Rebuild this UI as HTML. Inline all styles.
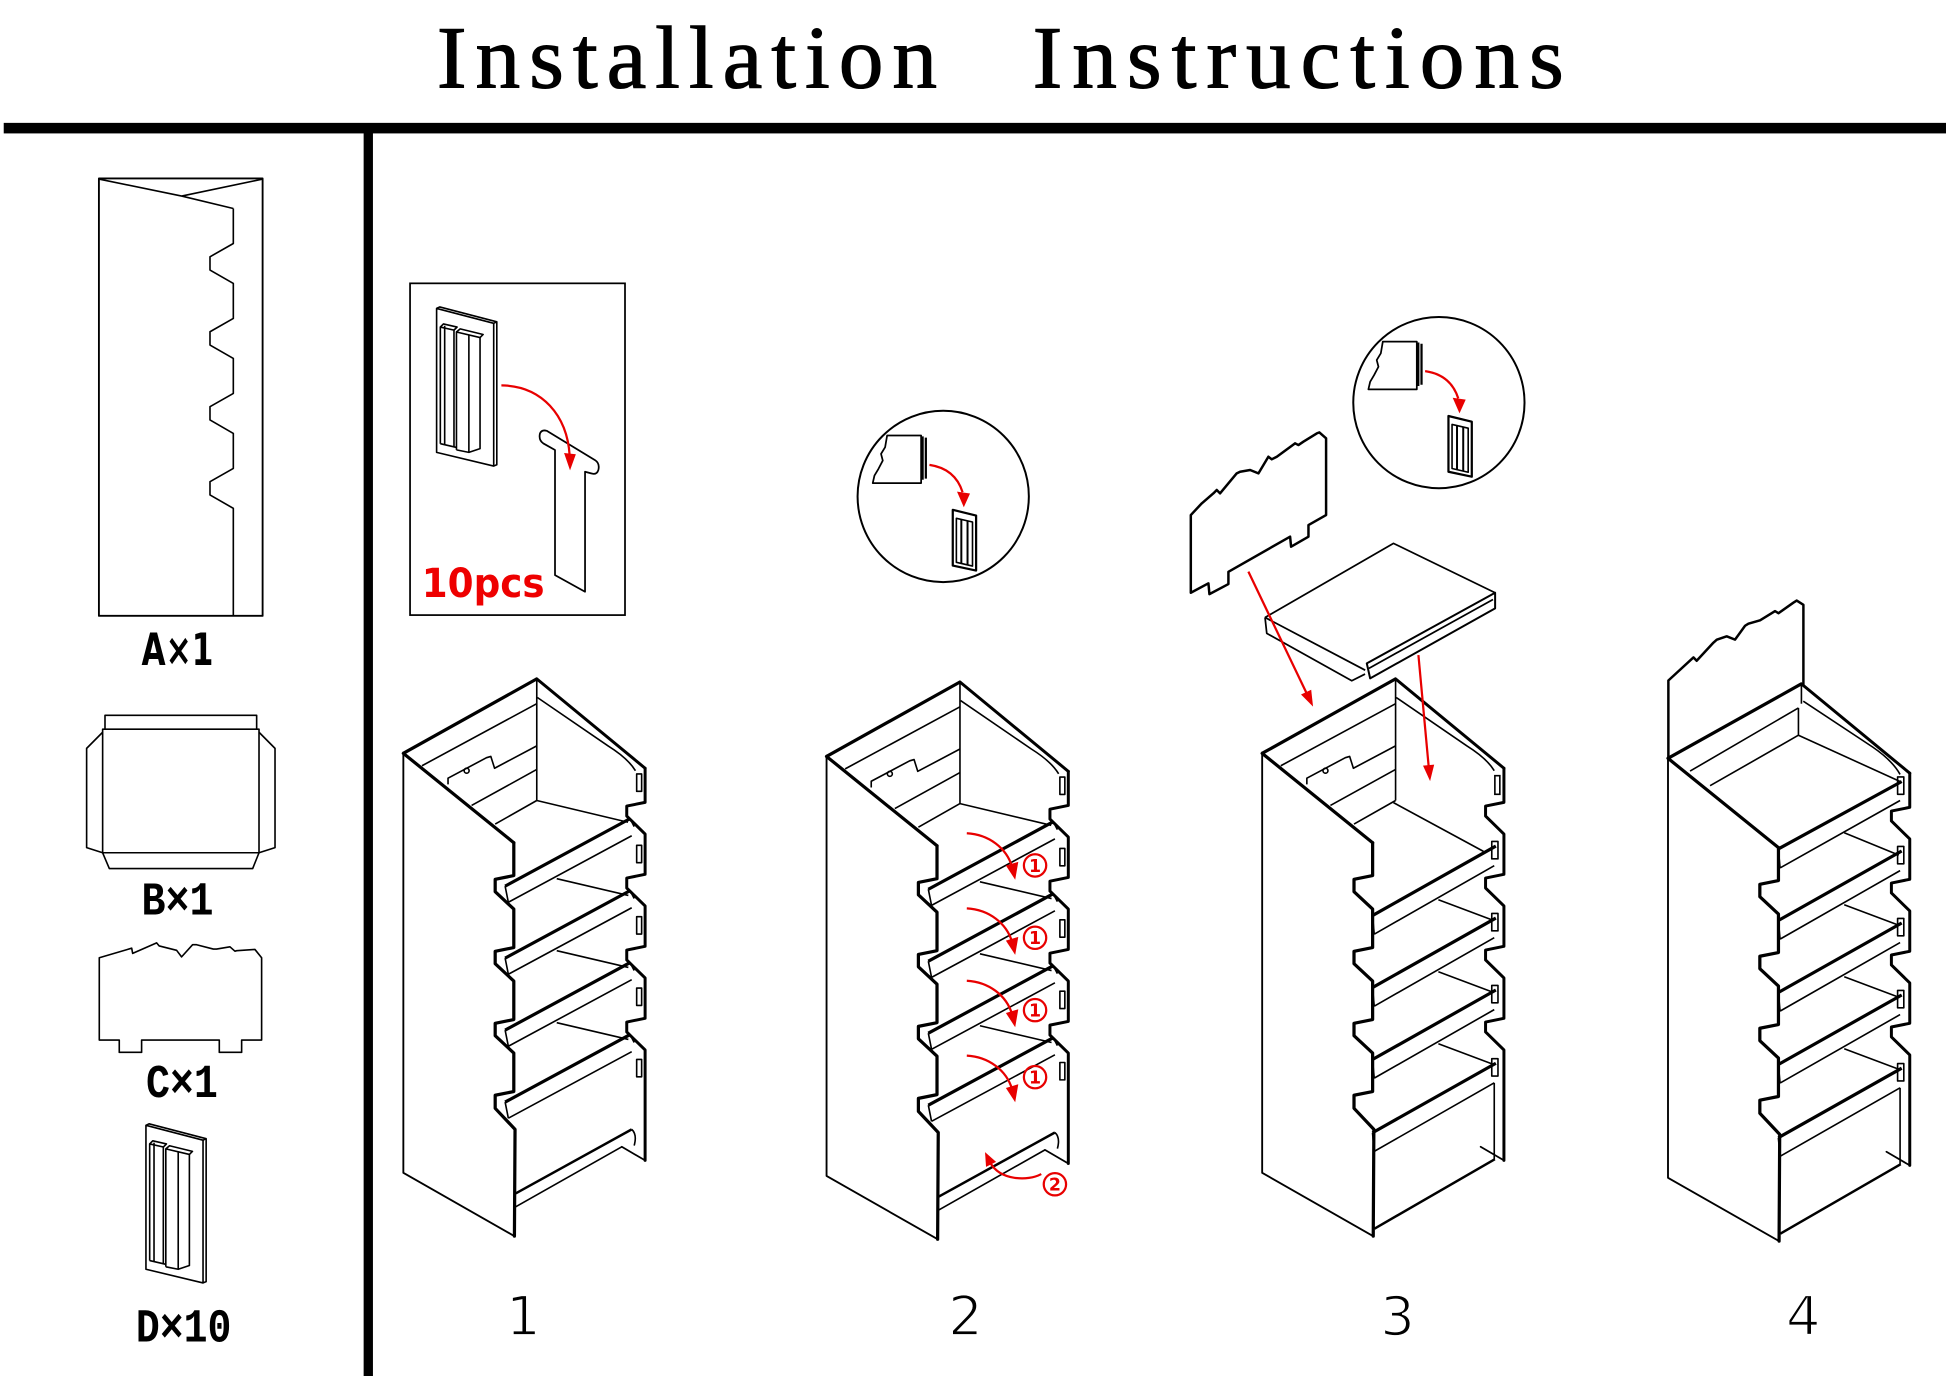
<!DOCTYPE html>
<html><head><meta charset="utf-8">
<style>
html,body{margin:0;padding:0;background:#fff;}
svg{display:block;}
</style></head><body>
<svg xmlns="http://www.w3.org/2000/svg" xmlns:xlink="http://www.w3.org/1999/xlink" width="1946" height="1376" viewBox="0 0 1568 1108.7" preserveAspectRatio="none">
<defs>
 <g id="shell" fill="none" stroke="#000" stroke-linejoin="round" stroke-linecap="round">
  <path d="M325,607 L325,945 L414.5,996" stroke-width="1.5"/>
  <path d="M325,607 L414,679" stroke-width="2.6"/>
  <path d="M414,679 L414,705.5 L399,708.5 L399,718.5 L414,732.5 L414,763.5 L399,766.5 L399,776.5 L414,790.5 L414,821.5 L399,824.5 L399,834.5 L414,848.5 L414,879.5 L399,882.5 L399,893 L415,910 L414.5,996" stroke-width="2.6"/>
  <path d="M432.5,547 L519.8,619" stroke-width="2.4"/>
  <path d="M519.8,619 L519.8,646.5 L505,649.5 L505,657.5 L519.8,672 L519.8,704.5 L505,707.5 L505,715.5 L519.8,730 L519.8,762.5 L505,765.5 L505,773.5 L519.8,788 L519.8,820.5 L505,823.5 L505,831.5 L519.8,846 L519.8,935" stroke-width="2.4"/>
  <path d="M519.8,935 L501,924" stroke-width="1.4"/>
 </g>
 <g id="topopen" fill="none" stroke="#000" stroke-width="1.3" stroke-linejoin="round">
  <path d="M325,607 L432.5,547" stroke-width="2.6"/>
  <path d="M340,617 L432.5,567"/>
  <path d="M361,632 L361,627 L392,610.5 L395.5,609.5 L398.5,619 L432.5,601"/>
  <circle cx="376" cy="621" r="2"/>
  <path d="M380,649 L432.5,620"/>
  <path d="M399,664 L432.5,645"/>
  <path d="M432.5,547 L432.5,645"/>
  <path d="M433,562 L490,601 Q506,611 512,621"/>
 </g>
 <g id="shelvesA" fill="none" stroke="#000" stroke-width="1.3" stroke-linejoin="round">
  <path d="M407,714 L507.7,659.6 M407,772 L507.7,717.6 M407,830 L507.7,775.6 M407,888 L507.7,833.6" stroke-width="2.6"/>
  <path d="M409.6,727 L509,673.4 M409.6,785 L509,731.4 M409.6,843 L509,789.4 M409.6,901 L509,847.4"/>
  <path d="M407,714 L409.6,727 M407,772 L409.6,785 M407,830 L409.6,843 M407,888 L409.6,901"/>
  <path d="M507.7,659.6 L511,666 M507.7,717.6 L511,724 M507.7,775.6 L511,782 M507.7,833.6 L511,840"/>
  <path d="M432.5,645 L506,662.5 M448.6,708 L506.3,721.5 M448.6,766 L506.3,779.5 M448.6,824 L506.3,837.5"/>
  <path d="M415.5,961.6 L509,910" stroke-width="2"/>
  <path d="M415.5,972.4 L501,924"/>
  <path d="M509,910 Q513.5,914 511,923"/>
  <rect x="513" y="623.6" width="4" height="14"/>
  <rect x="513" y="681.1" width="4" height="14"/>
  <rect x="513" y="738.6" width="4" height="14"/>
  <rect x="513" y="796.1" width="4" height="14"/>
  <rect x="513" y="853.6" width="4" height="14"/>
 </g>
 <g id="shelvesB" fill="none" stroke="#000" stroke-width="1.3" stroke-linejoin="round">
  <path d="M413.9,737.7 L513.3,681.7 M413.9,795.7 L513.3,739.7 M413.9,853.7 L513.3,797.7 M413.9,912.7 L513.3,856.7" stroke-width="2.6"/>
  <path d="M415.3,752.7 L512,697.5 M415.3,810.7 L512,755.5 M415.3,868.7 L512,813.5 M415.3,927.7 L512,872.5"/>
  <path d="M413.9,737.7 L415.3,752.7 M413.9,795.7 L415.3,810.7 M413.9,853.7 L415.3,868.7 M413.9,912.7 L415.3,927.7"/>
  <rect x="510" y="678" width="5" height="14"/>
  <rect x="510" y="736" width="5" height="14"/>
  <rect x="510" y="794" width="5" height="14"/>
  <rect x="510" y="853" width="5" height="14"/>
  <path d="M467,725 L511,741.5 M467,783 L511,799.5 M467,841 L511,857.5"/>
  <path d="M415.5,990 L512.5,934" stroke-width="2"/>
  <path d="M512,872.5 L512,934"/>
 </g>
 <g id="dclip" fill="none" stroke="#000" stroke-width="1.3" stroke-linejoin="round">
  <path d="M0,0 L46,12 L46,127 L0,116 Z"/>
  <path d="M0,0 L2.5,-1.2 L48.5,10.8 L48.5,126 L46,127"/>
  <path d="M46,12 L48.5,10.8"/>
  <path d="M3,109 L3,15 L14,17.5 L14,112"/>
  <path d="M3,15 L5.5,12.5 L16.5,15 L14,17.5"/>
  <path d="M6.5,14 L6.5,110"/>
  <path d="M16,114 L16,19 L35,23.5 L35,113 L26,116 L16,114"/>
  <path d="M16,19 L19,16.5 L37.5,21 L35,23.5"/>
  <path d="M26,21 L26,116"/>
  <path d="M3,109 L16,112"/>
 </g>
 <g id="circ" fill="none" stroke="#000" stroke-linejoin="round">
  <circle cx="1159.4" cy="324.4" r="69" stroke-width="1.6"/>
  <path d="M1114.2,275.3 L1141.6,275.3 L1141.6,313.7 L1102.6,313.7 L1104,307.6 L1107.2,302.2 L1110.7,295.5 L1109.3,290.1 L1112.6,284.7 Z" stroke-width="1.4"/>
  <path d="M1142.8,276 L1142.8,311 M1145.4,277 L1145.4,310" stroke-width="1.8"/>
  <path d="M1167.1,335.2 L1185.9,339.8 L1185.9,384.1 L1167.1,380.1 Z" stroke-width="1.8"/>
  <path d="M1170,342 L1183,345 L1183,380.5 L1170,377.5 Z" stroke-width="1.3"/>
  <path d="M1174,343 L1174,378.5 M1179,344 L1179,379.5" stroke-width="1.6"/>
  <path d="M1148.3,299 Q1169,302 1175,321" stroke="#e80000" stroke-width="1.8"/>
  <polygon points="1170.5,320.5 1181,322 1176,333.1" fill="#e80000" stroke="none"/>
 </g>
</defs>

<rect x="0" y="0" width="1568" height="1109" fill="#fff"/>

<!-- Title -->
<text x="352" y="70.5" font-family="Liberation Serif, serif" font-size="72" textLength="403" lengthAdjust="spacing" fill="#000" stroke="#000" stroke-width="0.9">Installation</text>
<text x="832" y="70.5" font-family="Liberation Serif, serif" font-size="72" textLength="428" lengthAdjust="spacing" fill="#000" stroke="#000" stroke-width="0.9">Instructions</text>

<!-- Bars -->
<rect x="3" y="99" width="1565" height="8.5" fill="#000"/>
<rect x="293" y="107" width="7.5" height="1002" fill="#000"/>

<!-- Part A -->
<g fill="none" stroke="#000" stroke-width="1.5" stroke-linejoin="round">
 <rect x="79.7" y="143.8" width="131.9" height="352.4"/>
 <path d="M79.7,144.3 L146.4,158 L188,168 M146.4,158 L211.6,144.3" stroke-width="1.3"/>
 <path d="M188,168 L188,196.2 L169.2,206.9 L169.2,217.6 L188,228.4 L188,256.6 L169.2,267.3 L169.2,278 L188,288.8 L188,317 L169.2,327.7 L169.2,338.4 L188,349.2 L188,377.4 L169.2,388.1 L169.2,398.8 L188,409.6 L188,496.2" stroke-width="1.3"/>
</g>
<text x="114" y="536" font-family="DejaVu Sans, sans-serif" font-weight="bold" font-size="36" textLength="58" lengthAdjust="spacingAndGlyphs" fill="#000">A×1</text>

<!-- Part B -->
<g fill="none" stroke="#000" stroke-width="1.3" stroke-linejoin="round">
 <path d="M84.6,587.5 L84.6,576.4 L206.8,576.4 L206.8,587.5"/>
 <rect x="82.7" y="587.5" width="126" height="99.6"/>
 <path d="M82.7,590 L69.8,603 L69.8,683 L82.7,687.1"/>
 <path d="M208.7,590 L221.6,603 L221.6,683 L208.7,687.1"/>
 <path d="M82.7,687.1 L88.1,699.8 L203.6,699.8 L208.7,687.1"/>
</g>
<text x="114" y="737" font-family="Liberation Mono, monospace" font-weight="bold" font-size="38" textLength="58" lengthAdjust="spacingAndGlyphs" fill="#000">B×1</text>

<!-- Part C -->
<path d="M80,771.7 L80,838 L96.1,838 L96.1,847.9 L114.1,847.9 L114.1,838 L176.7,838 L176.7,847.9 L194.7,847.9 L194.7,838 L210.8,838 L210.8,771.7 L205.4,765 L190.7,766 L189.3,766.4 L185.3,762.9 L174.5,764.7 L171.9,764.7 L158.4,761.2 L155.2,761.2 L146.3,771 L142.3,765.7 L128.3,762.2 L126.2,759.7 L106.9,768.2 L106.1,764 Z" fill="none" stroke="#000" stroke-width="1.3" stroke-linejoin="round"/>
<text x="117.6" y="884" font-family="Liberation Mono, monospace" font-weight="bold" font-size="38" textLength="58" lengthAdjust="spacingAndGlyphs" fill="#000">C×1</text>

<!-- Part D -->
<use href="#dclip" xlink:href="#dclip" transform="translate(117.6,906.7)"/>
<text x="109.5" y="1081" font-family="Liberation Mono, monospace" font-weight="bold" font-size="38" textLength="77" lengthAdjust="spacingAndGlyphs" fill="#000">D×10</text>

<!-- Step 1 inset box -->
<rect x="330.4" y="228.3" width="173.2" height="267.3" fill="none" stroke="#000" stroke-width="1.4"/>
<use href="#dclip" xlink:href="#dclip" transform="translate(351.8,248.5)"/>
<path d="M447.2,463.4 L447.2,362.6 L437.8,357.3 Q433.8,354.6 435.1,349.2 Q436.5,346 440.5,347.1 L479.4,370.7 Q483.5,373.4 482.1,378.8 Q480.8,382.8 476.7,381.5 L471.4,380.1 L471.4,476.8 Z" fill="none" stroke="#000" stroke-width="1.4" stroke-linejoin="round"/>
<path d="M404,310.5 C437,311 457,335 459,367" fill="none" stroke="#e80000" stroke-width="1.8"/>
<polygon points="454.5,365 464,366 459.3,379" fill="#e80000"/>
<text x="339.8" y="481" font-family="DejaVu Sans, sans-serif" font-weight="bold" font-size="32" textLength="99" lengthAdjust="spacingAndGlyphs" fill="#ee0000">10pcs</text>

<!-- Cabinet 1 -->
<use href="#shell" xlink:href="#shell"/>
<use href="#topopen" xlink:href="#topopen"/>
<use href="#shelvesA" xlink:href="#shelvesA"/>

<!-- Cabinet 2 -->
<g transform="translate(341,2.5)">
 <use href="#shell" xlink:href="#shell"/>
 <use href="#topopen" xlink:href="#topopen"/>
 <use href="#shelvesA" xlink:href="#shelvesA"/>
</g>
<use href="#circ" xlink:href="#circ" transform="translate(-399.4,75.6)"/>

<!-- Step 2 red annotations -->
<g fill="none" stroke="#e80000" stroke-width="1.8">
 <path d="M779,671.4 C797,672.4 811,683.4 815.5,698.4"/>
 <path d="M779,731.9 C797,732.9 811,743.9 815.5,758.9"/>
 <path d="M779,790.2 C797,791.2 811,802.2 815.5,817.2"/>
 <path d="M779,850.6 C797,851.6 811,862.6 815.5,877.6"/>
 <path d="M839,946 C828,952 806,951 798,937"/>
 <circle cx="834" cy="697.3" r="9"/>
 <circle cx="834" cy="755.6" r="9"/>
 <circle cx="834" cy="813.9" r="9"/>
 <circle cx="834" cy="867.9" r="9"/>
 <circle cx="850" cy="954.2" r="9"/>
</g>
<g fill="#e80000">
 <polygon points="810.5,697.4 820.5,694.4 818,708.9"/>
 <polygon points="810.5,757.9 820.5,754.9 818,769.4"/>
 <polygon points="810.5,816.2 820.5,813.2 818,827.7"/>
 <polygon points="810.5,876.6 820.5,873.6 818,888.1"/>
 <polygon points="802.6,936.2 794.5,940.2 793.7,928.3"/>
</g>
<g font-family="DejaVu Sans, sans-serif" font-weight="bold" font-size="14" fill="#e80000" text-anchor="middle">
 <text x="834" y="702.5">1</text>
 <text x="834" y="760.8">1</text>
 <text x="834" y="819.1">1</text>
 <text x="834" y="873.1">1</text>
 <text x="850" y="959.4">2</text>
</g>

<!-- Cabinet 3 -->
<g transform="translate(692,0)">
 <use href="#shell" xlink:href="#shell"/>
 <use href="#topopen" xlink:href="#topopen"/>
 <use href="#shelvesB" xlink:href="#shelvesB"/>
 <path d="M430.8,646.7 L503.3,686" fill="none" stroke="#000" stroke-width="1.3"/>
 <rect x="512.5" y="625" width="4" height="15" fill="none" stroke="#000" stroke-width="1.3"/>
</g>
<use href="#circ" xlink:href="#circ"/>

<!-- Step 3 header C -->
<path d="M959.5,415 L968.3,405.6 L977.7,397.5 L980.4,394.8 L983.1,397.5 L996.5,381.4 L999.2,380.1 L1007.3,378.7 L1014,381.4 L1022,368 L1024.7,370.1 L1028.8,368 L1043.5,357.2 L1046.2,358.6 L1050.2,355.9 L1061,349.2 L1063.1,348.4 L1068.5,353.2 L1068.5,415 L1054.3,423.1 L1054.3,432.4 L1040.3,440.5 L1039.5,432.4 L989.8,460.7 L989.8,470.6 L974.5,478.7 L973.7,470 L959.5,477.6 Z" fill="none" stroke="#000" stroke-width="2" stroke-linejoin="round"/>

<!-- Step 3 tray B -->
<g fill="none" stroke="#000" stroke-width="1.4" stroke-linejoin="round">
 <path d="M1019.3,497.5 L1122.8,437.8 L1204.7,477.6"/>
 <path d="M1019.3,497.5 L1100,540"/>
 <path d="M1019.3,497.5 L1020.7,510.3 L1089.2,548.5 L1099.9,543.1"/>
 <path d="M1101.3,534.5 L1204.7,477.6 L1204.7,490.2 L1104,546.6 Z" stroke-width="1.6"/>
 <path d="M1103,538.5 L1203,483"/>
</g>

<!-- Step 3 red arrows -->
<g stroke="#e80000" stroke-width="1.8" fill="none">
 <path d="M1005.9,460.6 L1053,559"/>
 <path d="M1142.9,527.8 L1151.2,618"/>
</g>
<g fill="#e80000">
 <polygon points="1056.5,555.8 1048.3,559.6 1058,569.4"/>
 <polygon points="1155.6,616.1 1146.6,616.9 1152.3,629.4"/>
</g>

<!-- Cabinet 4 -->
<g transform="translate(1019,4)">
 <use href="#shell" xlink:href="#shell"/>
 <use href="#shelvesB" xlink:href="#shelvesB"/>
 <g fill="none" stroke="#000" stroke-width="1.3" stroke-linejoin="round">
  <path d="M325,607 L432.5,547" stroke-width="2.6"/>
  <path d="M342.8,617.3 L430.1,566.4"/>
  <path d="M358.9,629.1 L430.1,588.4"/>
  <path d="M430.1,566.4 L430.1,588.4"/>
  <path d="M432.5,547 L432.5,563"/>
  <path d="M430.1,588.4 L512,625.7"/>
  <path d="M434,561 L490,598 Q506,609 512,620"/>
  <path d="M413.9,680 L513.3,625.7" stroke-width="2.6"/>
  <path d="M415.3,695.3 L512,641"/>
  <path d="M413.9,680 L415.3,695.3"/>
  <rect x="510" y="622" width="5" height="14"/>
  <path d="M467,667 L511,685"/>
 </g>
</g>
<path d="M1344.3,612.8 L1344.3,548.3 L1364.5,529.7 L1367.1,532.4 L1380.6,517.8 L1383.3,515.4 L1391.3,512.7 L1398,515.4 L1406.1,504.2 L1408.8,502.5 L1418.2,499.8 L1430.3,492.4 L1433,494.1 L1445,485.6 L1447.7,483.9 L1453.1,487.3 L1453.1,551.7" fill="none" stroke="#000" stroke-width="2" stroke-linejoin="round"/>

<!-- Step numbers -->
<g font-family="DejaVu Sans, sans-serif" font-size="44" fill="#000" stroke="#fff" stroke-width="1.4" text-anchor="middle">
 <text x="421.7" y="1075.8">1</text>
 <text x="778" y="1075.8">2</text>
 <text x="1126" y="1075.8">3</text>
 <text x="1453" y="1075.8">4</text>
</g>
</svg>
</body></html>
